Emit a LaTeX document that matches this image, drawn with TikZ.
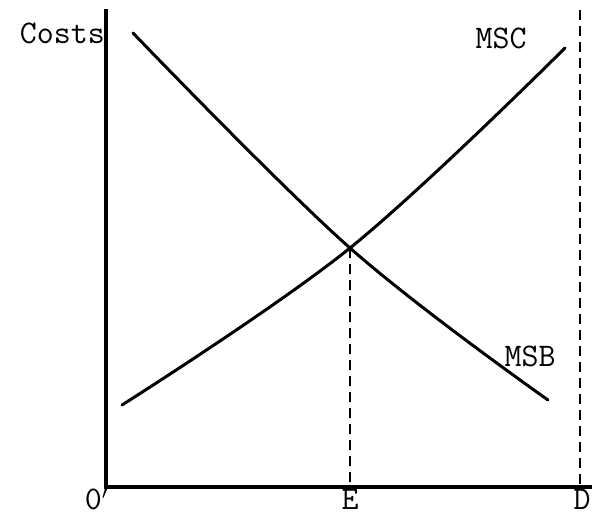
\documentclass[tikz,border=0pt]{standalone}
\begin{document}
\begin{tikzpicture}[x=1pt,y=-1pt,
  axis/.style={line width=3.4pt},
  curve/.style={line width=3pt, line cap=round},
  guide/.style={line width=2pt, dash pattern=on 10pt off 6pt},
  lbl/.style={font=\ttfamily\fontsize{33}{33}\selectfont, inner sep=0pt}]
\useasboundingbox (0,0) rectangle (592,515);
\coordinate (O) at (106,487);
\coordinate (top) at (106,9);
\coordinate (right) at (592,487);
\coordinate (X) at (350,248);
\coordinate (Ebase) at (350,487);
\coordinate (Dtop) at (580,10);
\coordinate (Dbase) at (580,487);
\coordinate (b1) at (133,33);
\coordinate (b2) at (548,400);
\coordinate (c1) at (122,405);
\coordinate (c2) at (565,48);
\draw[axis] (top) -- (O) -- (right);
\draw[guide] (X) -- (Ebase);
\draw[guide] (Dtop) -- (Dbase);
\draw[curve] plot[smooth, tension=0.6] coordinates {(b1) (X) (b2)};
\draw[curve] plot[smooth, tension=0.6] coordinates {(c1) (X) (c2)};
\node[lbl, anchor=base east] (costs) at (105,43) {Costs};
\node[lbl, anchor=base] (msc) at (501,48) {MSC};
\node[lbl, anchor=base] (msb) at (530,366) {MSB};
\node[lbl, anchor=base] (o) at (97,509) {0$'$};
\node[lbl, anchor=base] (e) at (350,509) {E};
\node[lbl, anchor=base] (d) at (582,509) {D};
\end{tikzpicture}
\end{document}
